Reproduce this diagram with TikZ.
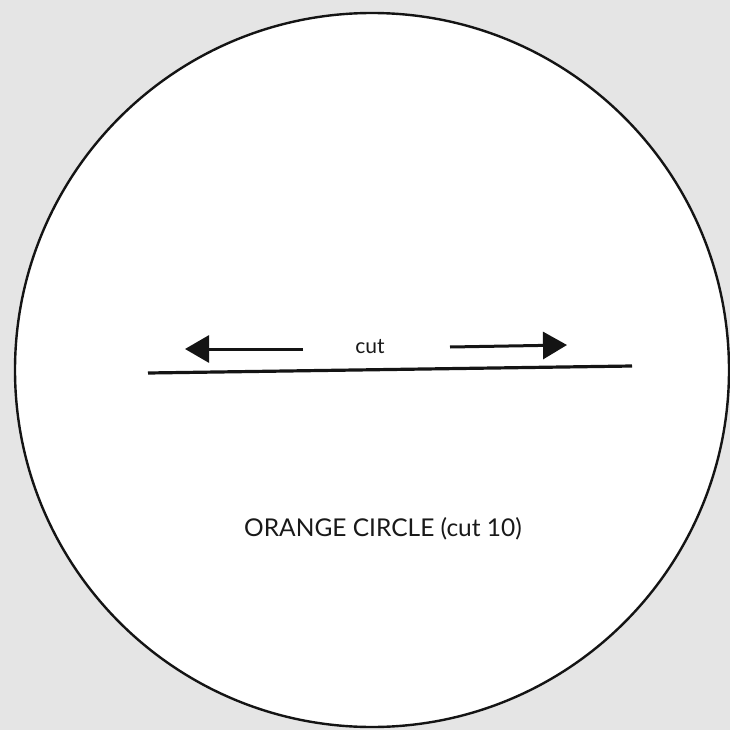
\documentclass[tikz,border=0pt]{standalone}
\usepackage{fontspec}
\setmainfont{Lato}
\usetikzlibrary{arrows.meta}
\begin{document}
\begin{tikzpicture}[x=1pt,y=-1pt,
  lbl/.style={inner sep=0pt, text=black!90},
  cutline/.style={line width=3.2pt, black!92},
  dirarrow/.style={line width=3pt, black!92, -{Triangle[length=24pt,width=27pt]}}]
  \useasboundingbox (0,0) rectangle (730,730);
  \fill[black!10] (0,0) rectangle (730,730);
  \draw[line width=2.4pt, black!92, fill=white] (372,370) circle[radius=357];
  \coordinate (c1) at (148,373);
  \coordinate (c2) at (632,366);
  \draw[cutline] (c1) -- (c2);
  \coordinate (la) at (303,349);
  \coordinate (lb) at (185,349);
  \coordinate (ra) at (450,347);
  \coordinate (rb) at (567,345);
  \draw[dirarrow] (la) -- (lb);
  \draw[dirarrow] (ra) -- (rb);
  \node[lbl, font=\fontsize{21}{25}\selectfont] (cut) at (370,347) {cut};
  \node[lbl, font=\fontsize{24.5}{28}\selectfont] (title) at (383,529) {ORANGE CIRCLE (cut 10)};
\end{tikzpicture}
\end{document}
